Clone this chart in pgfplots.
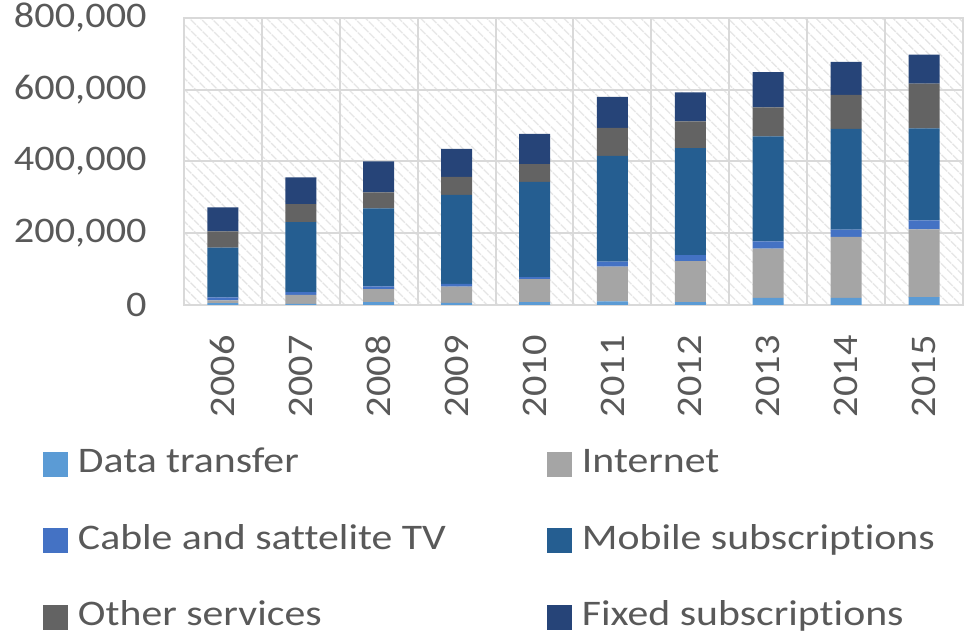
\documentclass[border=0pt]{standalone}
\usepackage{fontspec}
\setmainfont{Carlito}[FakeStretch=1.12, Ligatures=NoCommon]
\newfontfamily\legfont{Carlito}[FakeStretch=1.16, Ligatures=NoCommon]
\usepackage{pgfplots}
\usepackage{pgfplotstable}
\pgfplotsset{compat=1.18}
\usetikzlibrary{patterns.meta}

\definecolor{datatr}{HTML}{5B9BD5}
\definecolor{inet}{HTML}{A5A5A5}
\definecolor{cabletv}{HTML}{4472C4}
\definecolor{mobile}{HTML}{255E91}
\definecolor{other}{HTML}{636363}
\definecolor{fixed}{HTML}{264478}
\definecolor{gridgray}{HTML}{D9D9D9}
\definecolor{txtgray}{HTML}{595959}

\pgfplotsset{sqlegend/.style={legend image code/.code={\fill[##1] (0pt,-1.85pt) rectangle (12.5pt,10.65pt);}}}

% values per year, stacked bottom to top
\pgfplotstableread{
x year data inet cable mobile other fixed
0 2006 5000 8000 8000 139000 45000 67000
1 2007 3000 25000 8000 195000 50000 75000
2 2008 8000 36000 8000 217000 45000 86000
3 2009 6000 45000 8000 248000 50000 78000
4 2010 8000 64000 6000 265000 50000 84000
5 2011 10000 97000 14000 295000 78000 86000
6 2012 8000 114000 17000 298000 75000 81000
7 2013 20000 137000 20000 293000 81000 98000
8 2014 20000 170000 20000 281000 95000 92000
9 2015 22000 189000 25000 256000 125000 81000
}\revenue

\begin{document}
\begin{tikzpicture}
\begin{axis}[name=ax, scale only axis, width=389.5pt, height=143.5pt,
  ybar stacked, bar width=15.5pt,
  xmin=-0.5, xmax=9.5, ymin=0, ymax=800000,
  xtick={0,...,9}, xticklabels={2006,2007,2008,2009,2010,2011,2012,2013,2014,2015},
  minor xtick={-0.5,0.5,...,9.5}, xminorgrids, ymajorgrids,
  ytick={0,200000,400000,600000,800000},
  major tick length=0, minor tick length=0,
  grid style={gridgray, line width=1pt},
  minor grid style={gridgray, line width=1pt},
  axis line style={gridgray, line width=1pt},
  axis background/.style={pattern={Lines[angle=-45,distance=4pt,line width=0.7pt]}, pattern color=gridgray!75},
  scaled y ticks=false,
  /pgf/number format/fixed,
  /pgf/number format/assume math mode=true,
  /pgf/number format/1000 sep={,},
  tick label style={font=\fontsize{18}{21.6}\selectfont, text=txtgray},
  yticklabel style={anchor=east, inner sep=0pt, inner xsep=18.5pt},
  xticklabel style={rotate=90, anchor=east, inner sep=0pt, inner xsep=15pt},
  legend columns=2,
  legend style={draw=none, fill=none, inner sep=0pt, outer sep=0pt,
    at={(-0.181,-0.4878)}, anchor=north west,
    font=\legfont\fontsize{18}{21.6}\selectfont, text=txtgray,
    nodes={inner sep=0pt, anchor=base west, text height=14pt, text depth=5pt},
    /tikz/every odd column/.append style={column sep=5pt},
    /tikz/every even column/.append style={column sep=50.5pt},
    row sep=19.25pt},
]
\addplot[fill=datatr, draw=none, sqlegend] table[x=x, y=data] {\revenue};
\addplot[fill=inet, draw=none, sqlegend] table[x=x, y=inet] {\revenue};
\addplot[fill=cabletv, draw=none, sqlegend] table[x=x, y=cable] {\revenue};
\addplot[fill=mobile, draw=none, sqlegend] table[x=x, y=mobile] {\revenue};
\addplot[fill=other, draw=none, sqlegend] table[x=x, y=other] {\revenue};
\addplot[fill=fixed, draw=none, sqlegend] table[x=x, y=fixed] {\revenue};
\legend{Data transfer, Internet, Cable and sattelite TV, Mobile subscriptions, Other services, Fixed subscriptions}
\end{axis}
\pgfresetboundingbox
\path ([xshift=-92pt,yshift=-164.5pt]ax.south west) rectangle ([xshift=3pt,yshift=9pt]ax.north east);
\end{tikzpicture}
\end{document}
